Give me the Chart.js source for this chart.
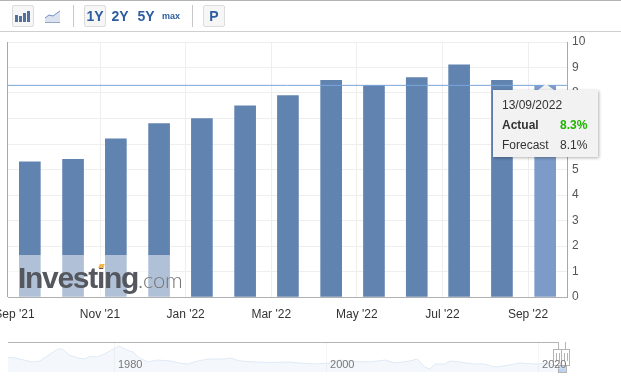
<!DOCTYPE html>
<html>
<head>
<meta charset="utf-8">
<script src="https://cdn.jsdelivr.net/npm/chart.js@4"></script>
<style>
    body { margin: 0; background: #fff; font-family: "Liberation Sans", Arial, sans-serif; overflow: hidden; }
    #page { position: relative; width: 621px; height: 380px; overflow: hidden; }
    #page > * { position: absolute; }
    #chart { left: 0; top: 0; }
    #nav { left: 8px; top: 342px; }
    .rule { background: #b4b4b4; }
    .sep { top: 5px; width: 1px; height: 22px; background: #c8c8c8; }
    .btn { top: 5px; height: 22px; line-height: 22px; text-align: center; font-weight: bold; font-size: 14px; color: #2d5c9f; box-sizing: border-box; }
    .on { background: #f6f6f6; border: 1px solid #dcdcdc; border-radius: 2px; line-height: 20px; }
    #shade { left: 8px; top: 255px; width: 166px; height: 42px; background: rgba(255, 255, 255, 0.5); }
    #logo { left: 18px; top: 260px; font-size: 30px; line-height: 36px; font-weight: bold; letter-spacing: -1.3px; color: #54585e; white-space: nowrap; }
    #logo span { font-family: "Lato", sans-serif; font-weight: 300; font-size: 22px; letter-spacing: -0.2px; color: #777; }
    #fleck { left: 99px; top: 264px; width: 5px; height: 4px; background: #f3b64a; transform: skewX(-20deg); }
    #tip { left: 493px; top: 90px; width: 105px; height: 67px; background: #f2f2f2; box-shadow: 1px 1px 3px rgba(0, 0, 0, 0.3); font-size: 12px; color: #333; }
    #tip div { position: absolute; white-space: nowrap; line-height: 14px; }
    #arrow { left: 538px; top: 84px; width: 0; height: 0; border-left: 8px solid transparent; border-right: 8px solid transparent; border-bottom: 6px solid #f2f2f2; }
    .handle { top: 349px; width: 7px; height: 15px; background: #fff; border: 1px solid #b4b4b4; box-sizing: content-box; }
    .handle::before { content: ""; position: absolute; left: 2px; top: 3px; width: 2px; height: 8px; border-left: 1px solid #b4b4b4; border-right: 1px solid #b4b4b4; }
</style>
</head>
<body>
<div id="page">
    <canvas id="chart" width="621" height="330"></canvas>

    <div class="rule" style="left:0;top:0;width:621px;height:1px"></div>
    <div class="rule" style="left:0;top:31px;width:621px;height:1px;background:#cfcfcf"></div>
    <div class="btn on" style="left:12px;width:22px"></div>
    <svg style="left:14px;top:10px" width="18" height="12">
        <rect x="1" y="5" width="3" height="7" fill="#54719c"/><rect x="5" y="6" width="3" height="6" fill="#54719c"/>
        <rect x="9" y="3" width="3" height="9" fill="#54719c"/><rect x="13" y="1" width="3" height="11" fill="#54719c"/>
    </svg>
    <svg style="left:44px;top:9px" width="18" height="15">
        <path d="M1 9 L5 6 L9 7 L13 4 L16 2 L16 13 L1 13 Z" fill="#dbe3f1"/>
        <path d="M1 9 L5 6 L9 7 L13 4 L16 2" fill="none" stroke="#6f8fbe"/>
        <rect x="1" y="13" width="15" height="1" fill="#98a8c4"/>
    </svg>
    <div class="sep" style="left:73px"></div>
    <div class="btn on" style="left:84px;width:22px">1Y</div>
    <div class="btn" style="left:109px;width:22px">2Y</div>
    <div class="btn" style="left:135px;width:22px">5Y</div>
    <div class="btn" style="left:160px;width:22px;font-size:9px">max</div>
    <div class="sep" style="left:192px"></div>
    <div class="btn on" style="left:203px;width:22px">P</div>

    <div id="shade"></div>
    <div id="logo">Investing<span>.com</span></div>
    <div id="fleck"></div>

    <div id="arrow"></div>
    <div id="tip">
        <div style="left:9px;top:8px">13/09/2022</div>
        <div style="left:9px;top:28px;font-weight:bold">Actual</div>
        <div style="left:67px;top:28px;font-weight:bold;color:#1eb300">8.3%</div>
        <div style="left:9px;top:48px">Forecast</div>
        <div style="left:67px;top:48px">8.1%</div>
    </div>

    <div class="rule" style="left:8px;top:342px;width:550px;height:1px"></div>
    <div class="rule" style="left:558px;top:342px;width:1px;height:7px"></div>
    <div class="rule" style="left:565px;top:342px;width:1px;height:7px"></div>
    <div style="left:558px;top:364px;width:7px;height:7px;background:#c4d9f3;border:1px solid #b4b4b4"></div>
    <div class="handle" style="left:553px"></div>
    <div class="handle" style="left:561px"></div>
    <!-- after the handles, the 2020 label sits on top of them -->
    <canvas id="nav" width="560" height="30"></canvas>
</div>

<script>
// months counted from Sep '21, so the bars sit at their release dates
const releaseMonths = [0.36, 1.37, 2.37, 3.38, 4.38, 5.39, 6.39, 7.4, 8.4, 9.4, 10.39, 11.39, 12.4];
const cpiValues = [5.3, 5.4, 6.2, 6.8, 7.0, 7.5, 7.9, 8.5, 8.3, 8.6, 9.1, 8.5, 8.3];
const monthLabels = ["Sep '21", "Nov '21", "Jan '22", "Mar '22", "May '22", "Jul '22", "Sep '22"];
const crosshairValue = 8.3;

const navYears = [1970, 1970.7, 1971.5, 1972.3, 1973, 1974, 1974.7, 1975.1, 1975.8, 1976.6, 1977.2, 1977.7, 1978.4, 1979.1, 1980.1,
    1980.5, 1981.1, 1981.8, 1982.4, 1983.2, 1984.1, 1985.3, 1986.2, 1987, 1987.6, 1988.1, 1989, 1990.5, 1990.9, 1991.9, 1993.3,
    1994.7, 1996.6, 1997.5, 1999, 2000.4, 2001.3, 2002.7, 2004.1, 2005.6, 2006.5, 2007.9, 2008.6, 2009.3, 2009.8, 2010.3, 2011.2,
    2011.7, 2012.6, 2014, 2015, 2015.5, 2016.1, 2017.3, 2018.3, 2019.7, 2021.1, 2021.9, 2022.6];
const navValues = [7.25, 7, 6, 5, 5.5, 9, 11.5, 11.5, 8.5, 7, 6.5, 7.75, 7.5, 9, 12,
    13, 11.25, 10, 7, 5, 6, 5.5, 4.5, 4, 5, 5.75, 6.5, 6.5, 7, 5.5, 5,
    4.75, 5, 4.5, 4, 4.5, 6, 5.25, 5, 6, 4.5, 5.5, 6.5, 2.5, 1.5, 4, 4,
    5.5, 5, 4, 4, 3, 2.5, 3.5, 4.5, 4, 4.5, 2, 2];

function buildMainChart() {
    const barColors = cpiValues.map((v, i) => i === cpiValues.length - 1 ? '#7c9bc8' : '#6083af');

    new Chart(document.getElementById('chart'), {
        data: {
            datasets: [{
                type: 'line',
                data: [{ x: -0.15, y: crosshairValue }, { x: 12.91, y: crosshairValue }],
                borderColor: '#7ba6dc',
                borderWidth: 1,
                pointRadius: 0,
                order: 0
            }, {
                type: 'bar',
                data: releaseMonths.map((m, i) => ({ x: m, y: cpiValues[i] })),
                backgroundColor: barColors,
                barThickness: 21,
                order: 1
            }]
        },
        options: {
            responsive: false,
            animation: false,
            layout: { autoPadding: false, padding: { left: 8, top: 42 } },
            plugins: { legend: { display: false }, tooltip: { enabled: false } },
            scales: {
                x: {
                    type: 'linear',
                    offset: false,
                    min: -0.15,
                    max: 12.91,
                    // the first label hangs off the page, do not shrink the plot for it
                    afterFit: s => { s.height = 33; s.paddingLeft = 0; s.paddingRight = 0; },
                    border: { color: '#b0b0b0', width: 1 },
                    grid: {
                        offset: false,
                        drawTicks: false,
                        lineWidth: 1,
                        color: c => c.tick && c.tick.value === 0 ? 'rgba(0,0,0,0)' : '#eeeeee'
                    },
                    ticks: {
                        stepSize: 2,
                        includeBounds: false,
                        autoSkip: false,
                        maxRotation: 0,
                        padding: 10,
                        color: '#333',
                        font: { family: '"Liberation Sans"', size: 12 },
                        callback: v => monthLabels[v / 2]
                    }
                },
                y: {
                    position: 'right',
                    min: 0,
                    max: 10,
                    afterFit: s => { s.width = 54; s.paddingTop = 0; s.paddingBottom = 0; },
                    border: { color: '#a8a8a8', width: 1 },
                    grid: { drawTicks: false, color: '#eeeeee' },
                    ticks: {
                        stepSize: 1,
                        padding: 5,
                        color: '#555',
                        font: { family: '"Liberation Sans"', size: 12 }
                    }
                }
            }
        },
        plugins: [{
            // left edge of the plot, the library only draws the axis side
            id: 'leftEdge',
            afterDatasetsDraw(chart) {
                const { ctx, chartArea } = chart;
                ctx.fillStyle = '#a8a8a8';
                ctx.fillRect(chartArea.left - 1, chartArea.top, 1, chartArea.bottom - chartArea.top);
            }
        }]
    });
}

function buildNavigator() {
    new Chart(document.getElementById('nav'), {
        type: 'line',
        data: {
            datasets: [{
                data: navYears.map((y, i) => ({ x: y, y: navValues[i] })),
                borderColor: '#dfe9f6',
                borderWidth: 1,
                backgroundColor: 'rgba(70, 130, 210, 0.06)',
                fill: 'origin',
                pointRadius: 0
            }]
        },
        options: {
            responsive: false,
            animation: false,
            layout: { autoPadding: false, padding: { right: 2 } },
            plugins: { legend: { display: false }, tooltip: { enabled: false } },
            scales: {
                x: {
                    type: 'linear',
                    min: 1970,
                    max: 2022.64,
                    afterFit: s => { s.height = 0; s.paddingLeft = 0; s.paddingRight = 0; },
                    border: { display: false },
                    grid: { drawTicks: false, color: 'rgba(0, 0, 0, 0.04)' },
                    ticks: {
                        stepSize: 20,
                        includeBounds: false,
                        autoSkip: false,
                        maxRotation: 0,
                        // mirror keeps the labels inside the plot, padding then counts upwards
                        mirror: true,
                        align: 'start',
                        labelOffset: 4,
                        padding: 0,
                        z: 1,
                        color: '#777',
                        font: { family: '"Liberation Sans"', size: 11 },
                        callback: v => String(v)
                    }
                },
                y: { display: false, min: 0, max: 15 }
            }
        }
    });
}

buildMainChart();
buildNavigator();
</script>
</body>
</html>
